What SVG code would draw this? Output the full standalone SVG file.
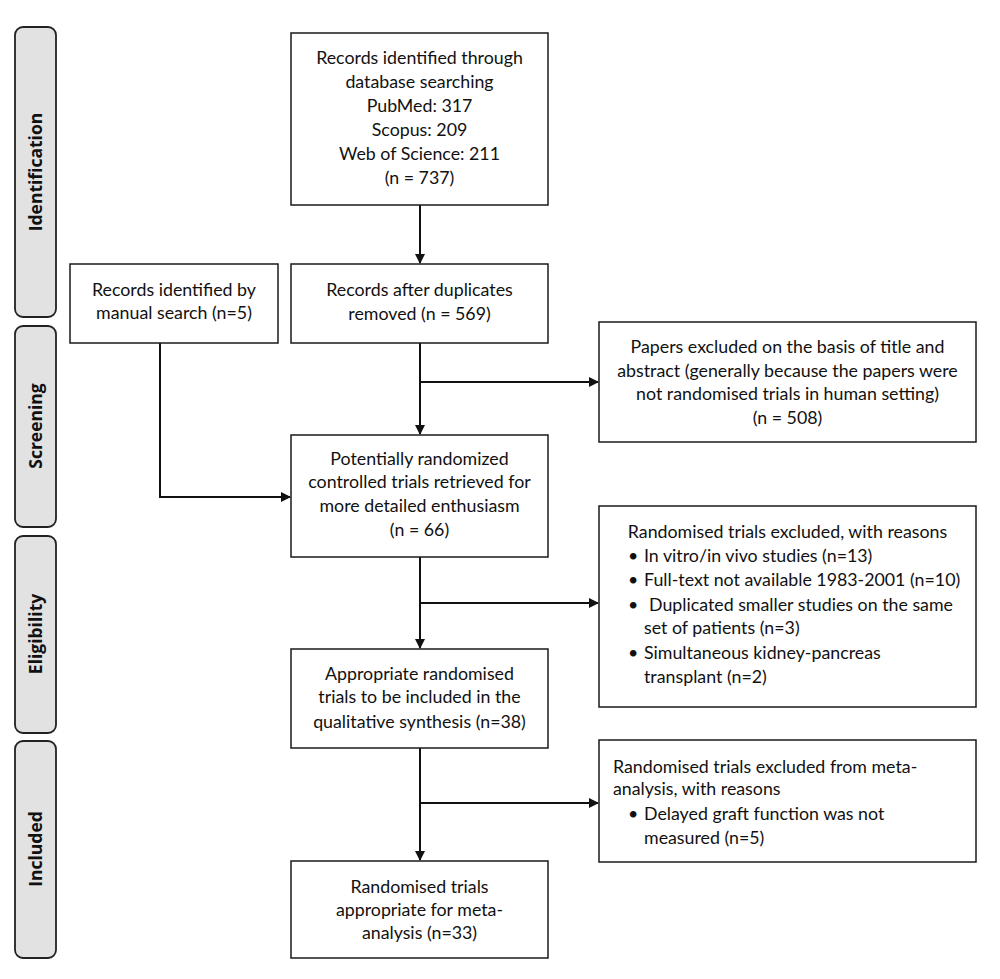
<svg xmlns="http://www.w3.org/2000/svg" width="1000" height="979" viewBox="0 0 1000 979">
<style>
.box{fill:#fff;stroke:#1a1a1a;stroke-width:1.5}
.side{fill:#e2e2e2;stroke:#222;stroke-width:1.8}
.t{font-family:Lato,"Liberation Sans",sans-serif;font-size:17.8px;fill:#111}
.c{text-anchor:middle}
.s{font-family:"Open Sans","Liberation Sans",sans-serif;font-weight:bold;font-size:17.5px;fill:#111;text-anchor:middle}
.ln{fill:none;stroke:#111;stroke-width:2}
</style>
<defs>
<marker id="ah" markerWidth="10" markerHeight="10" refX="9" refY="5" orient="auto" markerUnits="userSpaceOnUse">
<path d="M0,0 L10,5 L0,10 z" fill="#111"/>
</marker>
</defs>
<rect width="1000" height="979" fill="#fff"/>
<g id="phase-identification">
<rect class="side" x="15" y="27" width="41" height="290" rx="8"/>
<text class="s" transform="translate(42,172) rotate(-90)">Identification</text>
</g>
<g id="phase-screening">
<rect class="side" x="15" y="326" width="41" height="201" rx="8"/>
<text class="s" transform="translate(42,426) rotate(-90)">Screening</text>
</g>
<g id="phase-eligibility">
<rect class="side" x="15" y="536" width="41" height="197" rx="8"/>
<text class="s" transform="translate(42,634) rotate(-90)">Eligibility</text>
</g>
<g id="phase-included">
<rect class="side" x="15" y="741" width="41" height="217" rx="8"/>
<text class="s" transform="translate(42,849) rotate(-90)">Included</text>
</g>
<g id="connectors">
<line class="ln" x1="420" y1="205" x2="420" y2="263" marker-end="url(#ah)"/>
<line class="ln" x1="420" y1="343" x2="420" y2="434" marker-end="url(#ah)"/>
<line class="ln" x1="420" y1="382" x2="598" y2="382" marker-end="url(#ah)"/>
<polyline class="ln" points="160,343 160,497 290,497" marker-end="url(#ah)"/>
<line class="ln" x1="420" y1="557" x2="420" y2="648" marker-end="url(#ah)"/>
<line class="ln" x1="420" y1="603" x2="598" y2="603" marker-end="url(#ah)"/>
<line class="ln" x1="420" y1="748" x2="420" y2="860" marker-end="url(#ah)"/>
<line class="ln" x1="420" y1="803" x2="598" y2="803" marker-end="url(#ah)"/>
</g>
<g id="db-search">
<rect class="box" x="291" y="33" width="257" height="172"/>
<text class="t c" x="419.5" y="64">Records identified through</text>
<text class="t c" x="419.5" y="88">database searching</text>
<text class="t c" x="419.5" y="112">PubMed: 317</text>
<text class="t c" x="419.5" y="136">Scopus: 209</text>
<text class="t c" x="419.5" y="160">Web of Science: 211</text>
<text class="t c" x="419.5" y="184">(n = 737)</text>
</g>
<g id="manual-search">
<rect class="box" x="70" y="264" width="208" height="79"/>
<text class="t c" x="174" y="296">Records identified by</text>
<text class="t c" x="174" y="319">manual search (n=5)</text>
</g>
<g id="duplicates-removed">
<rect class="box" x="291" y="264" width="257" height="79"/>
<text class="t c" x="419.5" y="296">Records after duplicates</text>
<text class="t c" x="419.5" y="320">removed (n = 569)</text>
</g>
<g id="papers-excluded">
<rect class="box" x="599" y="322" width="377" height="120"/>
<text class="t c" x="787.5" y="353">Papers excluded on the basis of title and</text>
<text class="t c" x="787.5" y="377">abstract (generally because the papers were</text>
<text class="t c" x="787.5" y="400">not randomised trials in human setting)</text>
<text class="t c" x="787.5" y="424">(n = 508)</text>
</g>
<g id="potential-rct">
<rect class="box" x="291" y="435" width="257" height="122"/>
<text class="t c" x="419.5" y="465">Potentially randomized</text>
<text class="t c" x="419.5" y="488">controlled trials retrieved for</text>
<text class="t c" x="419.5" y="512">more detailed enthusiasm</text>
<text class="t c" x="419.5" y="536">(n = 66)</text>
</g>
<g id="rct-excluded">
<rect class="box" x="599" y="506" width="377" height="201"/>
<text class="t c" x="787.5" y="538">Randomised trials excluded, with reasons</text>
<text class="t" x="628" y="562">•</text><text class="t" x="644" y="562">In vitro/in vivo studies (n=13)</text>
<text class="t" x="628" y="586">•</text><text class="t" x="644" y="586">Full-text not available 1983-2001 (n=10)</text>
<text class="t" x="628" y="611">•</text><text class="t" x="649" y="611">Duplicated smaller studies on the same</text>
<text class="t" x="644" y="634">set of patients (n=3)</text>
<text class="t" x="628" y="659">•</text><text class="t" x="644" y="659">Simultaneous kidney-pancreas</text>
<text class="t" x="644" y="683">transplant (n=2)</text>
</g>
<g id="qualitative">
<rect class="box" x="291" y="649" width="257" height="99"/>
<text class="t c" x="419.5" y="680">Appropriate randomised</text>
<text class="t c" x="419.5" y="703">trials to be included in the</text>
<text class="t c" x="419.5" y="728">qualitative synthesis (n=38)</text>
</g>
<g id="meta-excluded">
<rect class="box" x="599" y="740" width="377" height="122"/>
<text class="t" x="613" y="773">Randomised trials excluded from meta-</text>
<text class="t" x="613" y="795">analysis, with reasons</text>
<text class="t" x="628" y="820">•</text><text class="t" x="644" y="820">Delayed graft function was not</text>
<text class="t" x="644" y="844">measured (n=5)</text>
</g>
<g id="meta-analysis">
<rect class="box" x="291" y="861" width="257" height="97"/>
<text class="t c" x="419.5" y="893">Randomised trials</text>
<text class="t c" x="419.5" y="916">appropriate for meta-</text>
<text class="t c" x="419.5" y="939">analysis (n=33)</text>
</g>
</svg>
